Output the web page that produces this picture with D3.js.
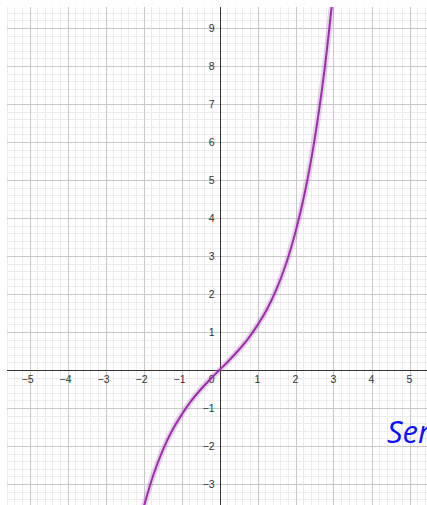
<!DOCTYPE html>
<html>
<head>
<meta charset="utf-8">
<script src="https://cdn.jsdelivr.net/npm/d3@7"></script>
<style>
  body { margin: 0; background: #fff; }
  svg { display: block; }
</style>
</head>
<body>
<svg></svg>
<script>
// curve
var xs = [-2.1, -2.0, -1.75, -1.5, -1.25, -1, -0.75, -0.5, -0.25, 0, 0.25, 0.5, 0.75, 1, 1.25, 1.5, 1.75, 2, 2.25, 2.5, 2.75, 3];
var ys = [-4.02, -3.63, -2.79, -2.13, -1.60, -1.18, -0.82, -0.52, -0.25, 0, 0.25, 0.52, 0.82, 1.18, 1.60, 2.13, 2.79, 3.63, 4.69, 6.05, 7.79, 10.02];
var xTicks = [-5, -4, -3, -2, -1, 1, 2, 3, 4, 5];
var yTicks = [-3, -2, -1, 1, 2, 3, 4, 5, 6, 7, 8, 9];
var seriesLabel = "Series";

var width = 427, height = 505;
var pLeft = 7, pTop = 7, pRight = 427, pBottom = 505;
var unit = 38, ox = 219.5, oy = 370;

var x = d3.scaleLinear()
  .domain([(pLeft - ox) / unit, (pRight - ox) / unit])
  .range([pLeft, pRight]);
var y = d3.scaleLinear()
  .domain([(oy - pBottom) / unit, (oy - pTop) / unit])
  .range([pBottom, pTop]);

var svg = d3.select("svg")
  .attr("width", width)
  .attr("height", height);

svg.append("clipPath").attr("id", "plot")
  .append("rect")
    .attr("x", pLeft).attr("y", pTop)
    .attr("width", pRight - pLeft).attr("height", pBottom - pTop);

var g = svg.append("g").attr("clip-path", "url(#plot)");

// minor grid every 0.2
var minorX = d3.range(-30, 30).map(function(i){ return i / 5; }).filter(function(v){ return Math.abs(v - Math.round(v)) > 1e-6; });
var minorY = d3.range(-20, 50).map(function(i){ return i / 5; }).filter(function(v){ return Math.abs(v - Math.round(v)) > 1e-6; });
var majorX = d3.range(-6, 7);
var majorY = d3.range(-4, 11);

g.selectAll(".mx").data(minorX).enter().append("line")
  .attr("x1", function(d){ return Math.round(x(d)) + 0.5; })
  .attr("x2", function(d){ return Math.round(x(d)) + 0.5; })
  .attr("y1", pTop).attr("y2", pBottom)
  .attr("stroke", "#ececec").attr("stroke-width", 1);
g.selectAll(".my").data(minorY).enter().append("line")
  .attr("y1", function(d){ return Math.round(y(d)) + 0.5; })
  .attr("y2", function(d){ return Math.round(y(d)) + 0.5; })
  .attr("x1", pLeft).attr("x2", pRight)
  .attr("stroke", "#ececec").attr("stroke-width", 1);
g.selectAll(".Mx").data(majorX).enter().append("line")
  .attr("x1", function(d){ return Math.round(x(d)) + 0.5; })
  .attr("x2", function(d){ return Math.round(x(d)) + 0.5; })
  .attr("y1", pTop).attr("y2", pBottom)
  .attr("stroke", "#c8c8c8").attr("stroke-width", 1);
g.selectAll(".My").data(majorY).enter().append("line")
  .attr("y1", function(d){ return Math.round(y(d)) + 0.5; })
  .attr("y2", function(d){ return Math.round(y(d)) + 0.5; })
  .attr("x1", pLeft).attr("x2", pRight)
  .attr("stroke", "#c8c8c8").attr("stroke-width", 1);

// axes
g.append("line")
  .attr("x1", pLeft).attr("x2", pRight)
  .attr("y1", Math.round(y(0)) + 0.5).attr("y2", Math.round(y(0)) + 0.5)
  .attr("stroke", "#333").attr("stroke-width", 1);
g.append("line")
  .attr("y1", pTop).attr("y2", pBottom)
  .attr("x1", Math.round(x(0)) + 0.5).attr("x2", Math.round(x(0)) + 0.5)
  .attr("stroke", "#333").attr("stroke-width", 1);

// tick labels
var fmt = function(d){ return d < 0 ? "\u2212" + Math.abs(d) : String(d); };
g.selectAll(".xl").data(xTicks).enter().append("text")
  .attr("x", function(d){ return x(d) + (d < 0 ? -2 : 0); })
  .attr("y", y(0) + 13)
  .attr("text-anchor", "middle")
  .attr("font-family", "Liberation Sans, Arial, sans-serif")
  .attr("font-size", 10.5)
  .attr("fill", "#333")
  .text(fmt);
g.selectAll(".yl").data(yTicks).enter().append("text")
  .attr("x", x(0) - 5)
  .attr("y", function(d){ return y(d) + 3.5; })
  .attr("text-anchor", "end")
  .attr("font-family", "Liberation Sans, Arial, sans-serif")
  .attr("font-size", 10.5)
  .attr("fill", "#333")
  .text(fmt);
g.append("text")
  .attr("x", x(0) - 5).attr("y", y(0) + 13)
  .attr("text-anchor", "end")
  .attr("font-family", "Liberation Sans, Arial, sans-serif")
  .attr("font-size", 10.5)
  .attr("fill", "#333")
  .text("0");

// curve
var pts = xs.map(function(d, i){ return [d, ys[i]]; });
var line = d3.line()
  .x(function(d){ return x(d[0]); })
  .y(function(d){ return y(d[1]); })
  .curve(d3.curveCatmullRom);

g.append("path").datum(pts)
  .attr("d", line)
  .attr("fill", "none")
  .attr("stroke", "#a050b4")
  .attr("stroke-opacity", 0.25)
  .attr("stroke-width", 6);
g.append("path").datum(pts)
  .attr("d", line)
  .attr("fill", "none")
  .attr("stroke", "#9a2fa8")
  .attr("stroke-width", 2);

// series label, cut off at the edge as in the original
g.append("text")
  .attr("x", 387).attr("y", 443)
  .attr("font-family", "Open Sans, sans-serif")
  .attr("font-style", "italic")
  .attr("font-size", 31)
  .attr("fill", "#1010ff")
  .text(seriesLabel);
</script>
</body>
</html>
